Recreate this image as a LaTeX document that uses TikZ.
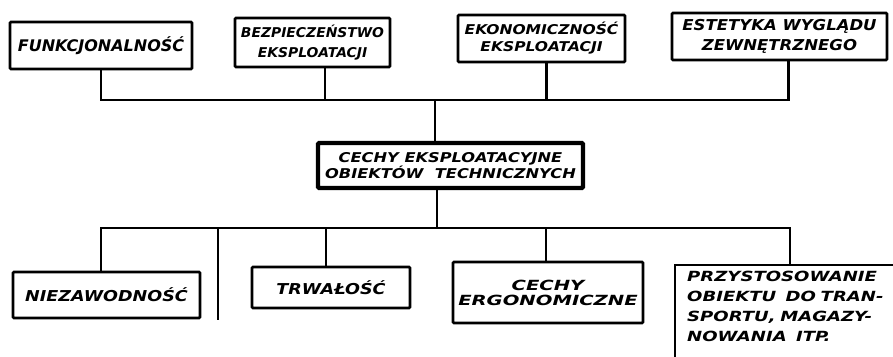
\documentclass[tikz,border=0pt]{standalone}
\usepackage{fontspec}
\usetikzlibrary{calc}
\newfontfamily\hand{DejaVu Sans}
% size, line spacing, horizontal stretch of the lettering
\newcommand{\letsize}[3]{\fontsize{#1}{#2}\selectfont\addfontfeatures{FakeStretch=#3}}
\tikzset{
  box/.style={draw, line width=2.6pt, inner sep=0pt, align=center, rounded corners=1pt},
  mainbox/.style={box, line width=4.2pt},
  conn/.style={line width=2.6pt},
}
\begin{document}
\begin{tikzpicture}[x=1pt,y=-1pt]
\useasboundingbox (0,0) rectangle (893,356);
\fill[white] (0,0) rectangle (893,356);
\begin{scope}
\clip (0,0) rectangle (893,356);

% upper row
\node[box, minimum width=182, minimum height=47,
      font={\hand\bfseries\itshape\letsize{16}{18}{1.0}}] (f1) at (101,45.5) {FUNKCJONALNOŚĆ};
\node[box, minimum width=155, minimum height=49,
      font={\hand\bfseries\itshape\letsize{13.5}{20}{1.03}}] (f2) at (312.5,42.5) {BEZPIECZEŃSTWO\\EKSPLOATACJI};
\node[box, minimum width=167, minimum height=47,
      font={\hand\bfseries\itshape\letsize{13.5}{17}{1.15}}] (f3) at (541.5,38.5) {EKONOMICZNOŚĆ\\EKSPLOATACJI};
\node[box, minimum width=215, minimum height=47,
      font={\hand\bfseries\itshape\letsize{15}{20}{1.1}}] (f4) at (779.5,36.5) {ESTETYKA WYGLĄDU\\ZEWNĘTRZNEGO};

% central box
\node[mainbox, minimum width=265, minimum height=45,
      font={\hand\bfseries\itshape\letsize{13.5}{14}{1.2}}] (main) at (450.5,165.5) {CECHY EKSPLOATACYJNE\\OBIEKTÓW\ \ TECHNICZNYCH};

% lower row
\node[box, minimum width=187, minimum height=46,
      font={\hand\bfseries\itshape\letsize{15}{18}{1.17}}] (b1) at (106.5,295) {NIEZAWODNOŚĆ};
\node[box, minimum width=158, minimum height=41,
      font={\hand\bfseries\itshape\letsize{15}{18}{1.17}}] (b2) at (331,287.5) {TRWAŁOŚĆ};
\node[box, minimum width=190, minimum height=61,
      font={\hand\bfseries\itshape\letsize{14}{15}{1.4}}] (b3) at (548,292.5) {CECHY\\ERGONOMICZNE};
% last box runs past the right and bottom edges: only its left and top sides show
\node[anchor=north west, align=left, inner xsep=12pt, inner ysep=6pt, text width=220pt,
      font={\hand\bfseries\itshape\letsize{14}{20}{1.29}}] (b4) at (675,265)
      {PRZYSTOSOWANIE\\OBIEKTU\ \ DO TRAN-\\SPORTU, MAGAZY-\\NOWANIA\ \ ITP.};
\draw[conn] ($(b4.north west)+(0,120)$) -- (b4.north west) -- ($(b4.north west)+(260,0)$);

% connector feet on the boxes
\coordinate (u1) at (f1.south);
\coordinate (u2) at ($(f2.south west)!0.58!(f2.south east)$);
\coordinate (u3) at ($(f3.south west)!0.53!(f3.south east)$);
\coordinate (u4) at ($(f4.south west)!0.54!(f4.south east)$);
\coordinate (d1) at ($(b1.north west)!0.47!(b1.north east)$);
\coordinate (d2) at ($(b2.north west)!0.47!(b2.north east)$);
\coordinate (d3) at ($(b3.north west)!0.49!(b3.north east)$);
\coordinate (d4) at ($(b4.north west)+(115,0)$);

% junctions on the two buses and the free branch
\coordinate (tb) at (435,100);
\coordinate (bb) at (437,228);
\coordinate (stub) at (218,320);

% upper bus
\draw[conn] (u1) |- (tb) -| (u4);
\draw[conn] (u2) -- (u2 |- tb);
\draw[conn] (u3) -- (u3 |- tb);
\draw[conn] (tb) -- (tb |- main.north);

% lower bus
\draw[conn] (bb |- main.south) -- (bb);
\draw[conn] (d1) |- (bb) -| (d4);
\draw[conn] (d2) -- (d2 |- bb);
\draw[conn] (d3) -- (d3 |- bb);
\draw[conn] (stub |- bb) -- (stub);
\end{scope}
\end{tikzpicture}
\end{document}
